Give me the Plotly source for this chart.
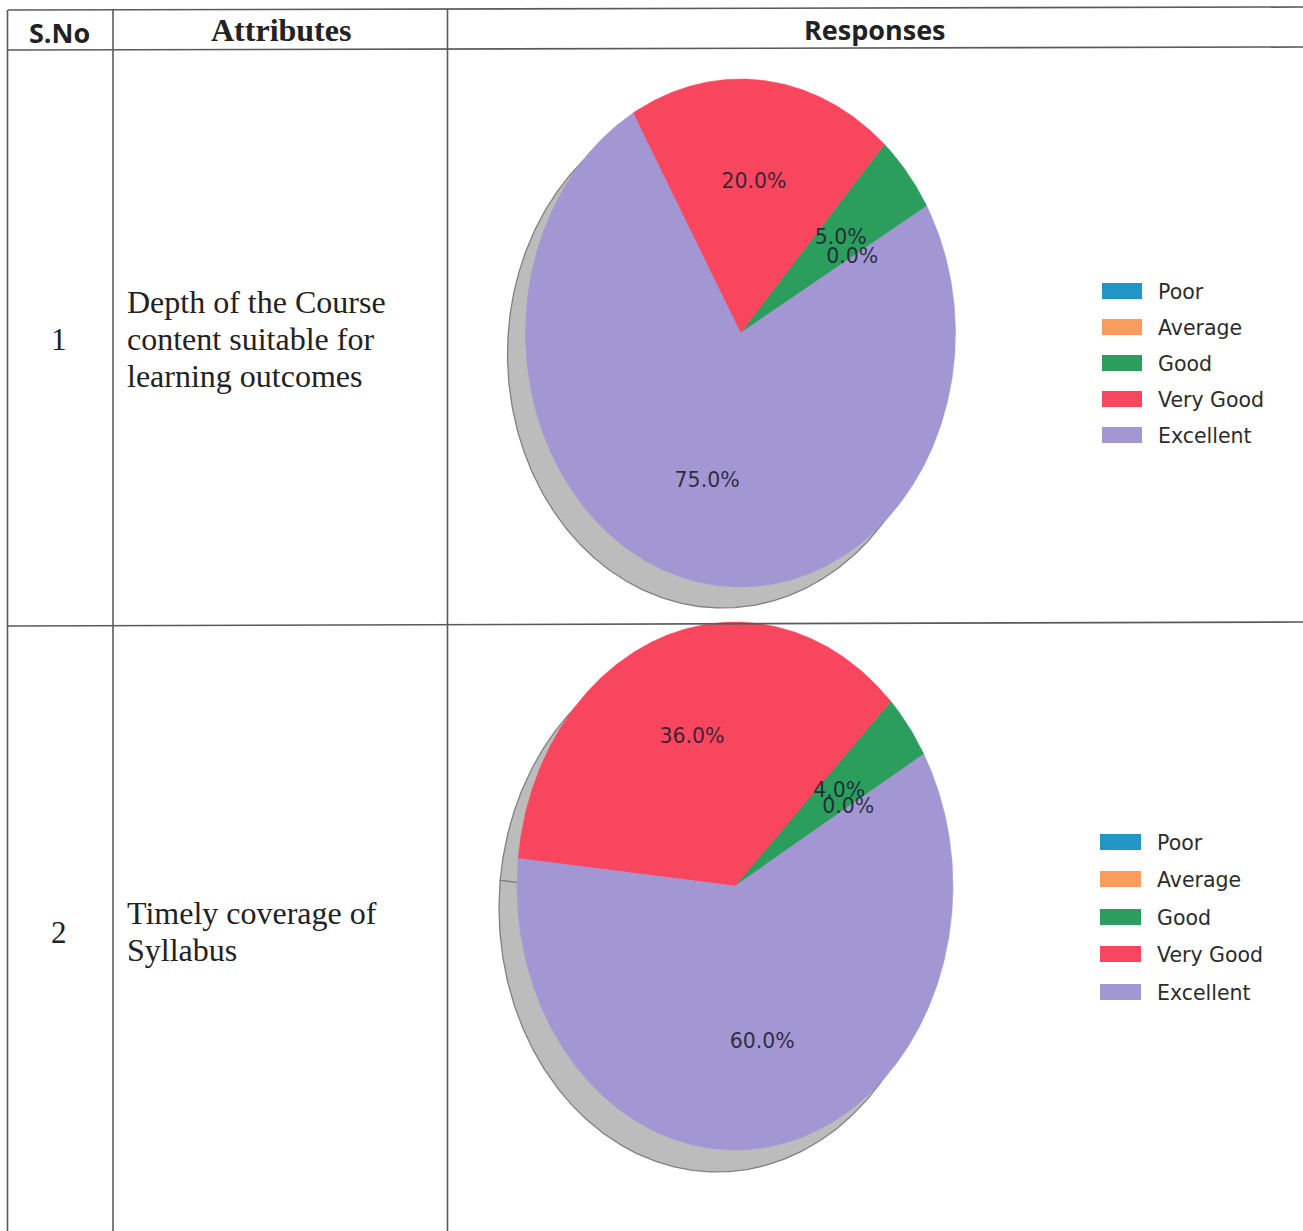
import numpy as np
import plotly.graph_objects as go

# ---- data ----
categories = ["Poor", "Average", "Good", "Very Good", "Excellent"]
pie1_values = [0, 0, 5, 20, 75]
pie2_values = [0, 0, 4, 36, 60]
slice_colors = ["#2196c4", "#fb9c5c", "#2b9e5e", "#f9465f", "#a297d2"]
headers = ["S.No", "Attributes", "Responses"]
serials = ["1", "2"]
attr1_lines = ["Depth of the Course", "content suitable for", "learning outcomes"]
attr2_lines = ["Timely coverage of", "Syllabus"]

# ---- layout constants ----
W, H = 1303, 1231
START_ANGLE = 30
SHADOW = "#bcbcbc"
SHADOW_EDGE = "#808083"
LABEL = "rgba(30,30,50,0.9)"
RULE = "#5a5a5a"
SERIF = "Liberation Serif"
SANS = "DejaVu Sans"

fig = go.Figure()


def wedge(cx, cy, rx, ry, a0, a1):
    t = np.radians(np.linspace(a0, a1, max(int(abs(a1 - a0)) * 2, 2)))
    xs = np.concatenate([[cx], cx + rx * np.cos(t), [cx]])
    ys = np.concatenate([[cy], cy - ry * np.sin(t), [cy]])
    return xs, ys


def add_pie(values, cx, cy, rx, ry, sx, sy):
    total = sum(values)
    edges = START_ANGLE + np.concatenate([[0], np.cumsum(values)]) * 360.0 / total
    # shadow
    for i, v in enumerate(values):
        if v == 0:
            continue
        xs, ys = wedge(cx + sx, cy + sy, rx, ry, edges[i], edges[i + 1])
        fig.add_trace(go.Scatter(x=xs, y=ys, mode="lines", fill="toself",
                                 fillcolor=SHADOW,
                                 line=dict(color=SHADOW_EDGE, width=1.3),
                                 hoverinfo="skip", showlegend=False))
    # slices
    for i, v in enumerate(values):
        xs, ys = wedge(cx, cy, rx, ry, edges[i], edges[i + 1])
        fig.add_trace(go.Scatter(x=xs, y=ys, mode="lines", fill="toself",
                                 fillcolor=slice_colors[i],
                                 line=dict(color=slice_colors[i], width=0.5),
                                 name=categories[i], text=f"{v:.1f}%",
                                 hoverinfo="name+text", showlegend=False))
    # percent labels at 0.6 of the radius
    mids = np.radians((edges[:-1] + edges[1:]) / 2)
    order = [i for i, v in enumerate(values) if v > 0 or i == 1]
    fig.add_trace(go.Scatter(
        x=[cx + 0.6 * rx * np.cos(mids[i]) for i in order],
        y=[cy + 1.5 - 0.6 * ry * np.sin(mids[i]) for i in order],
        text=[f"{values[i] / total * 100:.1f}%" for i in order],
        mode="text", textposition="middle center",
        textfont=dict(family=SANS, size=20.5, color=LABEL),
        hoverinfo="skip", showlegend=False))


add_pie(pie1_values, 740.5, 333, 215, 254, -18, 21)
add_pie(pie2_values, 735, 886, 218, 264, -18, 22)

shapes = []
annotations = []


def rule(x0, y0, x1, y1):
    shapes.append(dict(type="line", x0=x0, y0=y0, x1=x1, y1=y1, xref="x", yref="y",
                       line=dict(color=RULE, width=1.6), layer="above"))


def label(x, y, s, family, size, color="#222222", anchor="center", bold=False):
    annotations.append(dict(x=x, y=y, xref="x", yref="y", text=f"<b>{s}</b>" if bold else s,
                            showarrow=False, xanchor=anchor, yanchor="middle",
                            font=dict(family=family, size=size, color=color)))


# table rules
rule(8, 10, 1303, 7)
rule(8, 50, 1303, 47)
rule(8, 626, 1303, 622)
rule(7.5, 10, 7.5, 1231)
rule(113, 10, 113, 1231)
rule(447.5, 9, 447.5, 1231)

# table text
for x, y, s, fam, size in zip([59, 281, 875], [32, 30, 29], headers,
                              ["Open Sans", SERIF, "Open Sans"], [27, 32, 27]):
    label(x, y, s, fam, size, bold=True)
for y, s in zip([339, 932], serials):
    label(59, y, s, SERIF, 31)
for y, s in zip([302, 339, 376], attr1_lines):
    label(125, y, s, SERIF, 32, anchor="left")
for y, s in zip([913, 950], attr2_lines):
    label(125, y, s, SERIF, 32, anchor="left")

# legends
for ys, x0, x1, tx in [([291, 327, 363, 399, 435], 1102, 1142, 1156),
                       ([842, 879, 917, 954, 992], 1100, 1141, 1155)]:
    for y, name, col in zip(ys, categories, slice_colors):
        shapes.append(dict(type="rect", x0=x0, x1=x1, y0=y - 8, y1=y + 8, xref="x", yref="y",
                           fillcolor=col, line=dict(width=0)))
        label(tx, y + 1, name, SANS, 20.5, color="#2c2c2c", anchor="left")

fig.update_layout(
    width=W, height=H, margin=dict(l=0, r=0, t=0, b=0),
    paper_bgcolor="white", plot_bgcolor="white", showlegend=False,
    xaxis=dict(range=[0, W], visible=False, fixedrange=True),
    yaxis=dict(range=[H, 0], visible=False, fixedrange=True),
    shapes=shapes, annotations=annotations,
)
fig.write_html("out.html", config={"displayModeBar": False},
               post_script="document.body.style.margin='0';document.body.style.overflow='hidden';")
